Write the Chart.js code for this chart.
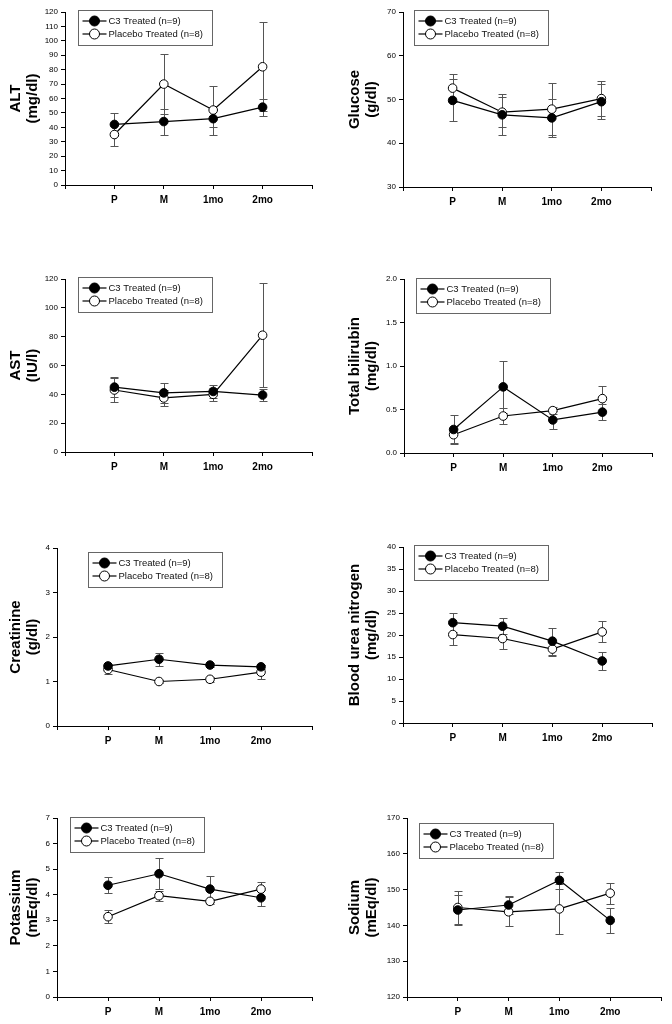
<!DOCTYPE html>
<html>
<head>
<meta charset="utf-8">
<script src="https://cdn.jsdelivr.net/npm/chart.js@4"></script>
<style>
  body { margin: 0; background: #fff; width: 672px; height: 1024px; position: relative; overflow: hidden; }
  canvas { position: absolute; }
</style>
</head>
<body>
<canvas id="c0"></canvas><canvas id="c1"></canvas>
<canvas id="c2"></canvas><canvas id="c3"></canvas>
<canvas id="c4"></canvas><canvas id="c5"></canvas>
<canvas id="c6"></canvas><canvas id="c7"></canvas>
<script>
// DATA
const categories = ['P', 'M', '1mo', '2mo'];
const seriesNames = ['C3 Treated (n=9)', 'Placebo Treated (n=8)'];

const altC3 = [42, 44, 46, 54];
const altC3Err = [8, 9, 6, 6];
const altPlacebo = [35, 70, 52, 82];
const altPlaceboErr = [8, 21, 17, 31];

const glucoseC3 = [49.8, 46.5, 45.8, 49.5];
const glucoseC3Err = [4.8, 4.7, 4.3, 4];
const glucosePlacebo = [52.6, 47.1, 47.8, 50.2];
const glucosePlaceboErr = [3.2, 3.4, 5.9, 4];

const astC3 = [45, 41, 42, 39.5];
const astC3Err = [7, 7, 4.5, 4];
const astPlacebo = [43, 37.5, 40, 81];
const astPlaceboErr = [8.5, 5.5, 4.5, 36];

const biliC3 = [0.27, 0.76, 0.38, 0.47];
const biliC3Err = [0.17, 0.3, 0.1, 0.09];
const biliPlacebo = [0.21, 0.425, 0.487, 0.625];
const biliPlaceboErr = [0.1, 0.09, 0.04, 0.145];

const creatC3 = [1.35, 1.5, 1.37, 1.33];
const creatC3Err = [0.05, 0.15, 0.05, 0.05];
const creatPlacebo = [1.27, 1.0, 1.05, 1.21];
const creatPlaceboErr = [0.1, 0.03, 0.06, 0.16];

const bunC3 = [22.8, 22.0, 18.6, 14.1];
const bunC3Err = [2.1, 1.8, 3.1, 2.1];
const bunPlacebo = [20.1, 19.2, 16.8, 20.7];
const bunPlaceboErr = [2.4, 2.4, 1.6, 2.4];

const potC3 = [4.37, 4.82, 4.22, 3.88];
const potC3Err = [0.31, 0.6, 0.5, 0.31];
const potPlacebo = [3.14, 3.96, 3.74, 4.22];
const potPlaceboErr = [0.26, 0.2, 0.1, 0.26];

const naC3 = [144.3, 145.7, 152.6, 141.4];
const naC3Err = [4.1, 2.5, 2.3, 3.4];
const naPlacebo = [145.0, 143.8, 144.6, 149.0];
const naPlaceboErr = [4.5, 4.1, 7, 2.9];

const FONT = '"Liberation Sans", Arial, sans-serif';

// panel layout (pixel positions of the axes on the page)
const panels = [
  { title: ['ALT', '(mg/dl)'], c3: altC3, c3Err: altC3Err, pb: altPlacebo, pbErr: altPlaceboErr,
    min: 0, max: 120, step: 10, col: 0, ax: 65, ar: 312, at: 12, ab: 185, ldx: 13, ldy: -2 },
  { title: ['Glucose', '(g/dl)'], c3: glucoseC3, c3Err: glucoseC3Err, pb: glucosePlacebo, pbErr: glucosePlaceboErr,
    min: 30, max: 70, step: 10, col: 1, ax: 403, ar: 651, at: 12, ab: 187, ldx: 11, ldy: -2 },
  { title: ['AST', '(IU/l)'], c3: astC3, c3Err: astC3Err, pb: astPlacebo, pbErr: astPlaceboErr,
    min: 0, max: 120, step: 20, col: 0, ax: 65, ar: 312, at: 279, ab: 452, ldx: 13, ldy: -2 },
  { title: ['Total bilirubin', '(mg/dl)'], c3: biliC3, c3Err: biliC3Err, pb: biliPlacebo, pbErr: biliPlaceboErr,
    min: 0, max: 2, step: 0.5, dec: 1, col: 1, ax: 404, ar: 652, at: 279, ab: 453, ldx: 12, ldy: -1 },
  { title: ['Creatinine', '(g/dl)'], c3: creatC3, c3Err: creatC3Err, pb: creatPlacebo, pbErr: creatPlaceboErr,
    min: 0, max: 4, step: 1, col: 0, ax: 57, ar: 312, at: 548, ab: 726, ldx: 31, ldy: 4 },
  { title: ['Blood urea nitrogen', '(mg/dl)'], c3: bunC3, c3Err: bunC3Err, pb: bunPlacebo, pbErr: bunPlaceboErr,
    min: 0, max: 40, step: 5, col: 1, ax: 403, ar: 652, at: 547, ab: 723, ldx: 11, ldy: -2 },
  { title: ['Potassium', '(mEq/dl)'], c3: potC3, c3Err: potC3Err, pb: potPlacebo, pbErr: potPlaceboErr,
    min: 0, max: 7, step: 1, col: 0, ax: 57, ar: 312, at: 818, ab: 997, ldx: 13, ldy: -1 },
  { title: ['Sodium', '(mEq/dl)'], c3: naC3, c3Err: naC3Err, pb: naPlacebo, pbErr: naPlaceboErr,
    min: 120, max: 170, step: 10, col: 1, ax: 407, ar: 661, at: 818, ab: 997, ldx: 12, ldy: 5 }
];

// ERROR BARS (drawn under the markers)
const errorBars = {
  id: 'errorBars',
  beforeDatasetsDraw(chart) {
    const { ctx, scales: { x, y } } = chart;
    ctx.save();
    ctx.strokeStyle = '#555';
    ctx.lineWidth = 1;
    chart.data.datasets.forEach(ds => {
      ds.data.forEach((p, i) => {
        const e = ds.errors[i];
        const px = Math.round(x.getPixelForValue(p.x)) + 0.5;
        const hi = Math.round(y.getPixelForValue(p.y + e)) + 0.5;
        const lo = Math.round(y.getPixelForValue(p.y - e)) + 0.5;
        ctx.beginPath();
        ctx.moveTo(px, hi); ctx.lineTo(px, lo);
        ctx.moveTo(px - 4, hi); ctx.lineTo(px + 4, hi);
        ctx.moveTo(px - 4, lo); ctx.lineTo(px + 4, lo);
        ctx.stroke();
      });
    });
    ctx.restore();
  }
};

// BOXED LEGEND inside the plot
const boxLegend = {
  id: 'boxLegend',
  afterDraw(chart, args, opts) {
    const { ctx, chartArea } = chart;
    const bx = Math.round(chartArea.left + opts.dx) + 0.5;
    const by = Math.round(chartArea.top + opts.dy) + 0.5;
    ctx.save();
    ctx.fillStyle = '#fff';
    ctx.fillRect(bx, by, 134, 35);
    ctx.strokeStyle = '#666';
    ctx.lineWidth = 1;
    ctx.strokeRect(bx, by, 134, 35);
    chart.data.datasets.forEach((ds, i) => {
      const ry = by + 10.5 + i * 13;
      ctx.strokeStyle = '#000';
      ctx.lineWidth = 1.2;
      ctx.beginPath();
      ctx.moveTo(bx + 4, ry); ctx.lineTo(bx + 28, ry);
      ctx.stroke();
      ctx.lineWidth = 1;
      ctx.beginPath();
      ctx.arc(bx + 16, ry, 5, 0, Math.PI * 2);
      ctx.fillStyle = ds.pointBackgroundColor;
      ctx.fill();
      ctx.stroke();
      ctx.fillStyle = '#111';
      ctx.font = '9.5px ' + FONT;
      ctx.textBaseline = 'middle';
      ctx.fillText(ds.label, bx + 30, ry);
    });
    ctx.restore();
  }
};

panels.forEach((p, k) => {
  const left = p.col * 336;
  const top = p.at - 14;
  const cv = document.getElementById('c' + k);
  cv.width = 336;
  cv.height = p.ab - top + 28;
  cv.style.left = left + 'px';
  cv.style.top = top + 'px';

  const mk = (vals, errs, name, fill) => ({
    label: name,
    data: vals.map((v, i) => ({ x: i + 1, y: v })),
    errors: errs,
    borderColor: '#000',
    borderWidth: 1.2,
    pointRadius: 4.3,
    pointBorderWidth: 1,
    pointBorderColor: '#000',
    pointBackgroundColor: fill,
    tension: 0
  });

  new Chart(cv, {
    type: 'line',
    data: {
      datasets: [
        mk(p.c3, p.c3Err, seriesNames[0], '#000'),
        mk(p.pb, p.pbErr, seriesNames[1], '#fff')
      ]
    },
    options: {
      responsive: false,
      animation: false,
      devicePixelRatio: 1,
      layout: { padding: { top: 14, right: left + 336 - p.ar, bottom: 0, left: 0 } },
      plugins: {
        legend: { display: false },
        tooltip: { enabled: false },
        boxLegend: { dx: p.ldx, dy: p.ldy }
      },
      scales: {
        x: {
          type: 'linear', min: 0, max: 5,
          afterFit: s => { s.height = 28; },
          ticks: {
            stepSize: 1, autoSkip: false, padding: 5, color: '#000',
            font: { family: FONT, size: 10, weight: 'bold' },
            callback: v => categories[v - 1] || ''
          },
          grid: { drawOnChartArea: false, tickLength: 4, color: '#000' },
          border: { color: '#000' }
        },
        y: {
          min: p.min, max: p.max,
          afterFit: s => { s.width = p.ax - left; },
          ticks: {
            stepSize: p.step, padding: 3, color: '#000',
            font: { family: FONT, size: 8 },
            callback: v => p.dec ? v.toFixed(p.dec) : v
          },
          grid: { drawOnChartArea: false, tickLength: 4, color: '#000' },
          border: { color: '#000' },
          title: {
            display: true, text: p.title, color: '#000',
            font: { family: FONT, size: 15, weight: 'bold', lineHeight: 1.1 },
            padding: { top: p.col ? 11 : 8, bottom: 0 }
          }
        }
      }
    },
    plugins: [errorBars, boxLegend]
  });
});
</script>
</body>
</html>
